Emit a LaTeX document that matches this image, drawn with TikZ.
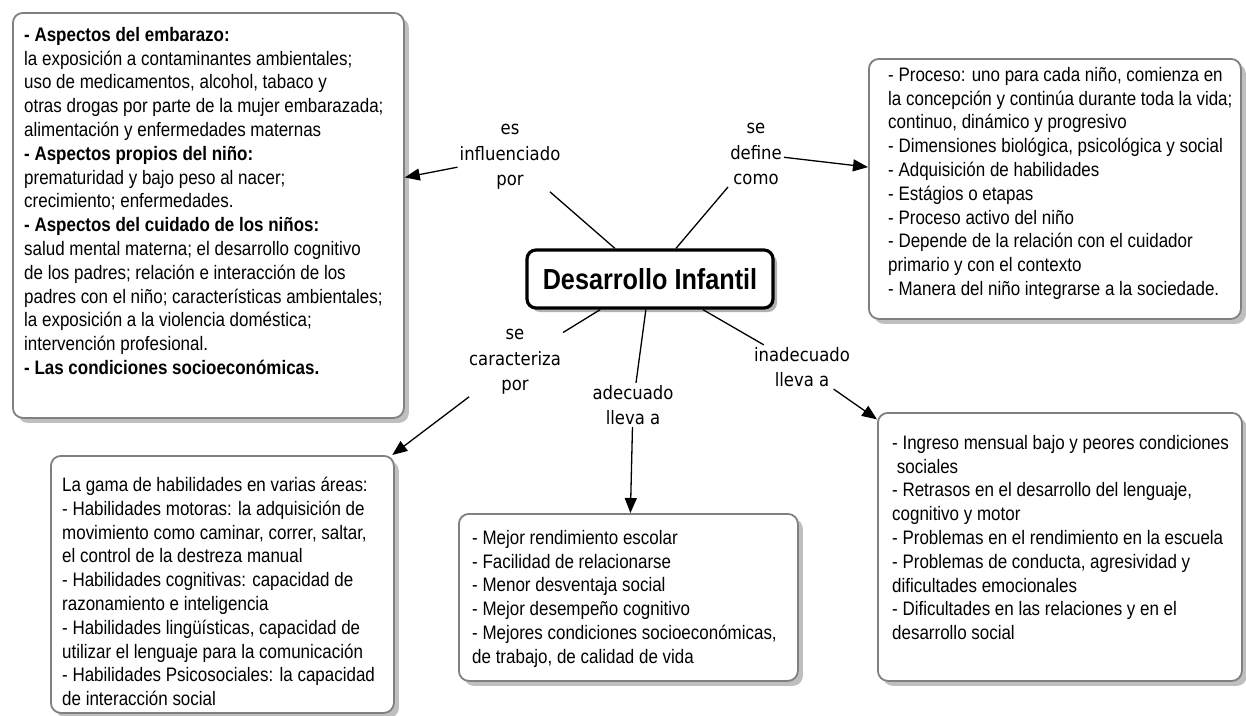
\documentclass[tikz,border=0pt]{standalone}
\usepackage{fontspec}
\setmainfont[FakeStretch=0.87]{Liberation Sans}
\newfontfamily\etiqfont[FakeStretch=0.89]{DejaVu Sans}
\usetikzlibrary{arrows.meta,shadows}

\tikzset{
 caja/.style={draw=black!50, line width=1.8pt, rounded corners=10pt, fill=white, inner sep=0pt,
  anchor=north west, drop shadow={shadow xshift=5pt, shadow yshift=-5pt, fill=black!25, opacity=1}},
 texto/.style={anchor=north west, inner sep=0pt, align=left, font=\fontsize{19.5}{23.8}\selectfont},
 enlace/.style={align=center, inner sep=2pt, font=\etiqfont\fontsize{18.5}{25.5}\selectfont},
 centro/.style={draw, line width=3.2pt, rounded corners=9pt, fill=white, minimum width=246pt,
  minimum height=58pt, font=\bfseries\fontsize{29}{32}\selectfont,
  drop shadow={shadow xshift=4pt, shadow yshift=-4pt, fill=black!30, opacity=1}},
 linea/.style={line width=1.3pt},
 flecha/.style={line width=1.3pt, -{Triangle[length=15pt,width=12pt]}},
}

\begin{document}
\begin{tikzpicture}[x=1pt, y=-1pt]
 \useasboundingbox (0,0) rectangle (1246,715);

 % cajas
 \node[caja, minimum width=391pt, minimum height=405pt] (influ) at (12,12) {}; % arriba izquierda
 \node[caja, minimum width=372pt, minimum height=260pt] (def) at (868,58) {}; % arriba derecha
 \node[caja, minimum width=343pt, minimum height=257pt] (carac) at (50,455) {}; % abajo izquierda
 \node[caja, minimum width=339pt, minimum height=167pt] (adec) at (458,513) {}; % abajo centro
 \node[caja, minimum width=364pt, minimum height=268pt] (inad) at (877,412) {}; % abajo derecha

 \node[texto] (influ txt) at (24,27) {\textbf{- Aspectos del embarazo:}\\
  la exposición a contaminantes ambientales;\\
  uso de medicamentos, alcohol, tabaco y\\
  otras drogas por parte de la mujer embarazada;\\
  alimentación y enfermedades maternas\\
  \textbf{- Aspectos propios del niño:}\\
  prematuridad y bajo peso al nacer;\\
  crecimiento; enfermedades.\\
  \textbf{- Aspectos del cuidado de los niños:}\\
  salud mental materna; el desarrollo cognitivo\\
  de los padres; relación e interacción de los\\
  padres con el niño; características ambientales;\\
  la exposición a la violencia doméstica;\\
  intervención profesional.\\
  \textbf{- Las condiciones socioeconómicas.}};
 \node[texto] (def txt) at (888,67) {- Proceso: uno para cada niño, comienza en\\
  la concepción y continúa durante toda la vida;\\
  continuo, dinámico y progresivo\\
  - Dimensiones biológica, psicológica y social\\
  - Adquisición de habilidades\\
  - Estágios o etapas\\
  - Proceso activo del niño\\
  - Depende de la relación con el cuidador\\
  primario y con el contexto\\
  - Manera del niño integrarse a la sociedade.};
 \node[texto] (carac txt) at (62,477) {La gama de habilidades en varias áreas:\\
  - Habilidades motoras: la adquisición de\\
  movimiento como caminar, correr, saltar,\\
  el control de la destreza manual\\
  - Habilidades cognitivas: capacidad de\\
  razonamiento e inteligencia\\
  - Habilidades lingüísticas, capacidad de\\
  utilizar el lenguaje para la comunicación\\
  - Habilidades Psicosociales: la capacidad\\
  de interacción social};
 \node[texto] (adec txt) at (472,530) {- Mejor rendimiento escolar\\
  - Facilidad de relacionarse\\
  - Menor desventaja social\\
  - Mejor desempeño cognitivo\\
  - Mejores condiciones socioeconómicas,\\
  de trabajo, de calidad de vida};
 \node[texto] (inad txt) at (892,435) {- Ingreso mensual bajo y peores condiciones\\
  \ sociales\\
  - Retrasos en el desarrollo del lenguaje,\\
  cognitivo y motor\\
  - Problemas en el rendimiento en la escuela\\
  - Problemas de conducta, agresividad y\\
  dificultades emocionales\\
  - Dificultades en las relaciones y en el\\
  desarrollo social};

 % concepto central y enlaces
 \node[centro] (centro) at (650,279) {Desarrollo Infantil};
 \node[enlace] (influido) at (510,157) {es\\influenciado\\por};
 \node[enlace] (define) at (756,154) {se\\define\\como};
 \node[enlace] (caract) at (515,362) {se\\caracteriza\\por};
 \node[enlace] (adecua) at (633,405) {adecuado\\lleva a};
 \node[enlace] (inadecua) at (802,367) {inadecuado\\lleva a};

 \draw[linea] (centro) -- (influido);
 \draw[flecha] (influido) -- (influ);
 \draw[linea] (centro) -- (define);
 \draw[flecha] (define) -- (def);
 \draw[linea] (centro) -- (caract);
 \draw[flecha] (caract) -- (carac);
 \draw[linea] (centro) -- (adecua);
 \draw[flecha] (adecua) -- (adec);
 \draw[linea] (centro) -- (inadecua);
 \draw[flecha] (inadecua) -- (inad);
\end{tikzpicture}
\end{document}
